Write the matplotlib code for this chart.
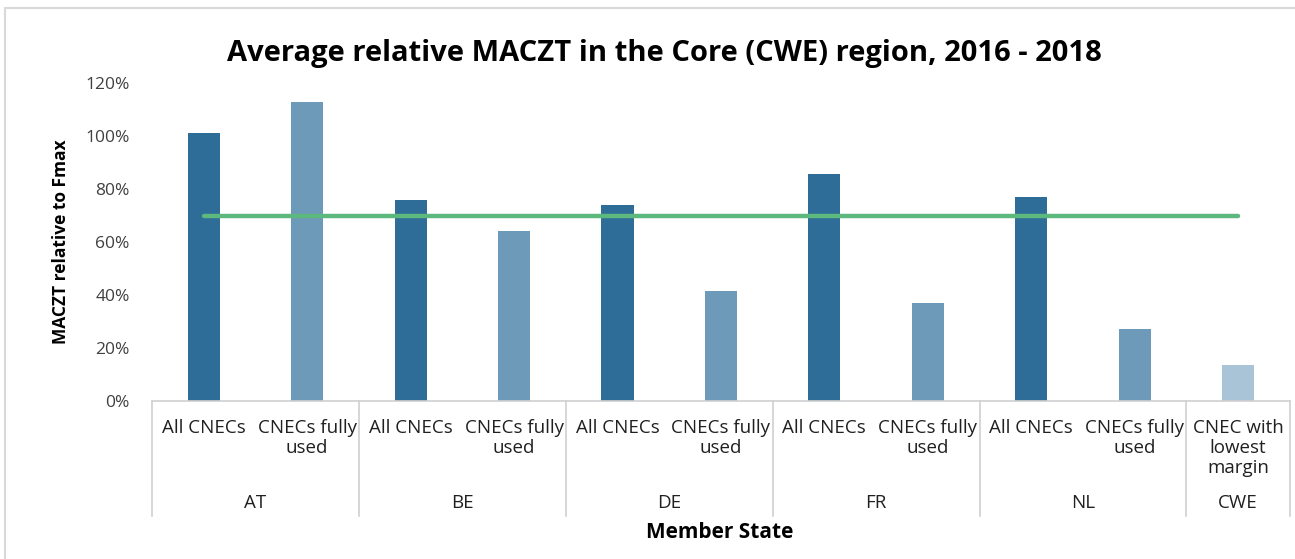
import matplotlib.pyplot as plt
import numpy as np
from matplotlib.patches import Rectangle

# categories and values
states = ["AT", "BE", "DE", "FR", "NL", "CWE"]
labels = ["All CNECs", "CNECs fully\nused"] * 5 + ["CNEC with\nlowest\nmargin"]
values = [1.01, 1.13, 0.76, 0.64, 0.74, 0.415, 0.855, 0.37, 0.77, 0.27, 0.135]
bar_kind = ["all", "used"] * 5 + ["lowest"]
group_sizes = [2, 2, 2, 2, 2, 1]
target = 0.70

colors = {"all": "#2e6d98", "used": "#6e9ab9", "lowest": "#a9c4d6"}

plt.rcParams['font.family'] = ['Open Sans', 'DejaVu Sans']

fig = plt.figure(figsize=(12.95, 5.59), dpi=100)
ax = fig.add_axes([0.1174, 0.2826, 0.8786, 0.5689])

x = np.arange(len(values))
ax.bar(x, values, width=0.31, color=[colors[k] for k in bar_kind])
ax.plot([x[0], x[-1]], [target, target], color="#5cb87c", lw=3.2,
        solid_capstyle="round")

ax.set_xlim(-0.5, len(values) - 0.5)
ax.set_ylim(0, 1.2)
ax.set_yticks(np.arange(0, 1.21, 0.2))
ax.set_yticklabels([f"{int(round(v * 100))}%" for v in np.arange(0, 1.21, 0.2)],
                   fontsize=12.5, color="#404040")
ax.tick_params(axis="y", length=0, pad=16)
ax.set_xticks([])
for s in ["top", "right", "left"]:
    ax.spines[s].set_visible(False)
ax.spines["bottom"].set_color("#d0d0d0")
ax.spines["bottom"].set_linewidth(1.2)

ax.set_ylabel("MACZT relative to Fmax", fontsize=12.5, fontweight="bold",
              labelpad=11)
ax.set_title("Average relative MACZT in the Core (CWE) region, 2016 - 2018",
             fontsize=21, fontweight="bold", pad=16, x=0.45)

# two-level category axis drawn below the bars
trans = ax.get_xaxis_transform()
for i, lab in enumerate(labels):
    ax.text(x[i], -0.058, lab, transform=trans, ha="center", va="top",
            fontsize=13.5, color="#202020", linespacing=1.13)

edges = np.concatenate([[0], np.cumsum(group_sizes)]) - 0.5
for e in edges:
    ax.plot([e, e], [0, -0.36], transform=trans, color="#d0d0d0", lw=1.2,
            clip_on=False)
for j, st in enumerate(states):
    mid = (edges[j] + edges[j + 1]) / 2
    ax.text(mid, -0.322, st, transform=trans, ha="center", va="center",
            fontsize=13.5, color="#202020")

fig.text(0.556, 0.048, "Member State", ha="center", va="center",
         fontsize=15, fontweight="bold")

# light frame around the chart area
fig.patches.append(Rectangle((0.004, -0.02), 1.1, 1.005, transform=fig.transFigure,
                             fill=False, edgecolor="#d9d9d9", lw=1.5))

plt.savefig("out.png")
